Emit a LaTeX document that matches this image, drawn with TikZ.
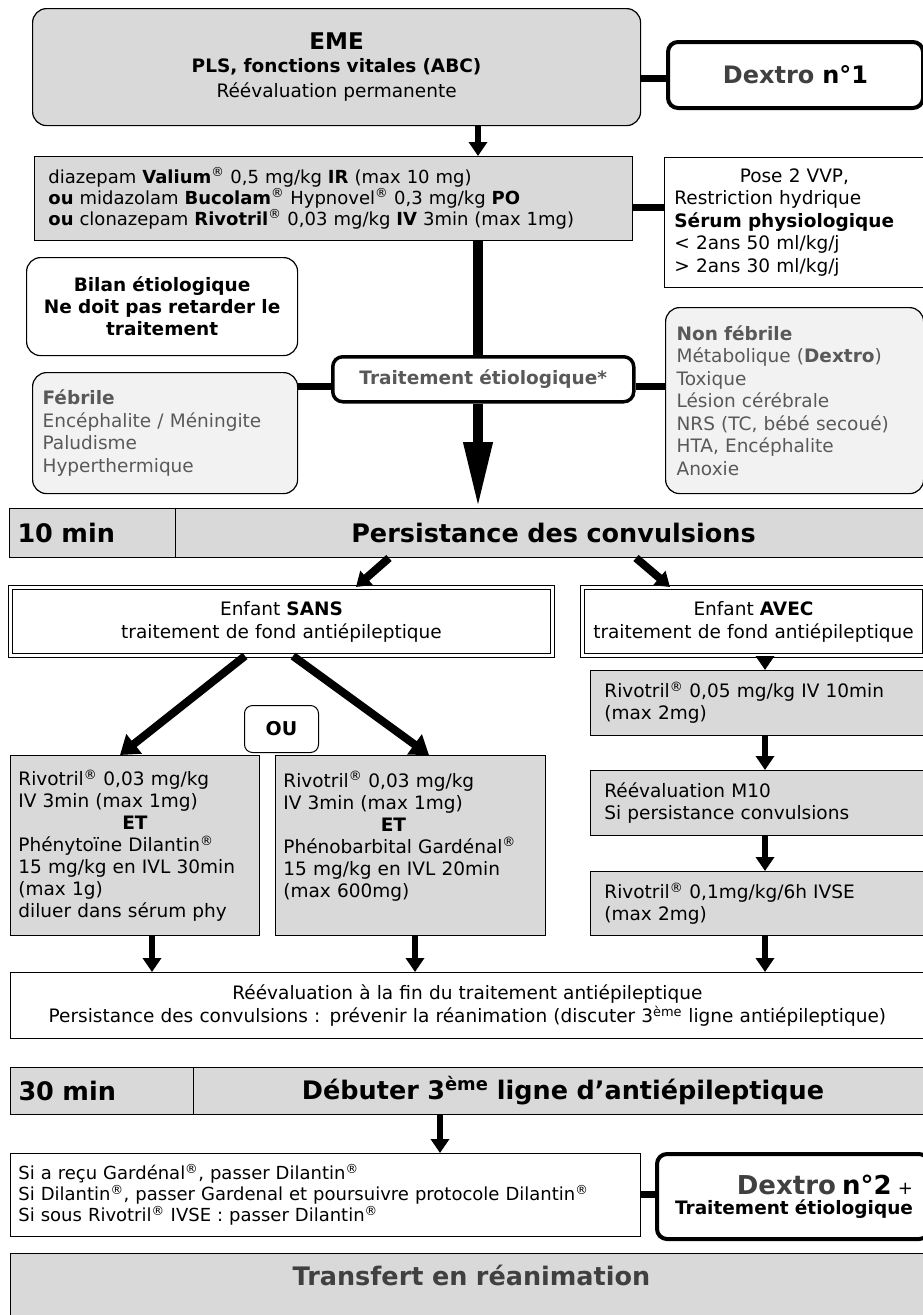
\documentclass[tikz,border=0pt]{standalone}
\usepackage{fontspec}
\setmainfont{DejaVu Sans}
\usetikzlibrary{arrows.meta,calc}
\definecolor{boxgray}{HTML}{D9D9D9}
\definecolor{lightfill}{HTML}{F2F2F2}
\definecolor{txtgray}{HTML}{595959}
\definecolor{darktxt}{HTML}{404040}
\newcommand{\rg}{\textsuperscript{®}}
\begin{document}
\begin{tikzpicture}[x=1pt,y=-1pt,
  box/.style={draw, line width=0.8pt, anchor=north west, inner xsep=14pt, inner ysep=0pt,
    font=\fontsize{18.5}{22}\selectfont},
  grayfill/.style={fill=boxgray},
  roundbox/.style={box, rounded corners=14pt, line width=1.2pt},
  thickbox/.style={box, rounded corners=10pt, line width=4pt},
  band/.style={box, fill=boxgray, line width=1pt, font=\fontsize{25.5}{30}\bfseries\selectfont},
  dbl/.style={box, double, double distance=2.5pt, line width=1pt},
  link/.style={line width=7pt},
  arrS/.style={line width=6pt, -{Triangle[length=14pt,width=18pt]}},
  arrD/.style={line width=8pt, -{Triangle[length=18pt,width=24pt]}},
]
\useasboundingbox (0,0) rectangle (922,1315);
\fill[white] (0,0) rectangle (922,1315);

% guide coordinates
\coordinate (xmain) at (478,0);
\coordinate (xr) at (765,0);
\coordinate (xl) at (152,0);
\coordinate (xm) at (415,0);
\coordinate (x3) at (440,0);

% top
\node[roundbox, fill=boxgray, minimum width=600pt, minimum height=117pt, text width=580pt, align=center] (eme) at (32,8)
 {{\fontsize{23}{28}\bfseries\selectfont EME}\\[1pt]{\bfseries PLS, fonctions vitales (ABC)}\\[3pt]Réévaluation permanente};
\node[thickbox, minimum width=255pt, minimum height=66pt, text width=227pt, align=center,
  font=\fontsize{24}{28}\bfseries\selectfont] (dex1) at (666,40) {\textcolor{darktxt}{Dextro} n°1};
\coordinate (ydex) at (0,78);
\draw[link] (eme.east |- ydex) -- (dex1.west |- ydex);

\node[box, grayfill, minimum width=598pt, minimum height=84pt, text width=570pt, align=left,
  font=\fontsize{18}{21}\selectfont] (drug) at (34,156)
 {diazepam \textbf{Valium}\rg{} 0,5 mg/kg \textbf{IR} (max 10 mg)\\
  \textbf{ou} midazolam \textbf{Bucolam}\rg{} Hypnovel\rg{} 0,3 mg/kg \textbf{PO}\\
  \textbf{ou} clonazepam \textbf{Rivotril}\rg{} 0,03 mg/kg \textbf{IV} 3min (max 1mg)};
\draw[arrS] (eme.south -| xmain) -- (drug.north -| xmain);

\node[box, minimum width=260pt, minimum height=130pt, text width=240pt, inner xsep=8pt, align=left,
  font=\fontsize{18.5}{22.5}\selectfont] (vvp) at (664,157)
 {\makebox[\linewidth][c]{Pose 2 VVP,}\\Restriction hydrique\\\textbf{Sérum physiologique}\\< 2ans 50 ml/kg/j\\> 2ans 30 ml/kg/j};
\coordinate (yvvp) at (0,207);
\draw[link] (drug.east |- yvvp) -- (vvp.west |- yvvp);

\node[roundbox, minimum width=271pt, minimum height=98pt, text width=255pt, inner xsep=8pt, align=center,
  font=\fontsize{18.5}{22}\bfseries\selectfont] (bilan) at (26,257)
 {Bilan étiologique\\Ne doit pas retarder le\\traitement};

\node[roundbox, fill=lightfill, text=txtgray, minimum width=265pt, minimum height=121pt, text width=245pt, inner xsep=10pt, align=left,
  font=\fontsize{18.5}{22.5}\selectfont] (febr) at (32,372)
 {\textbf{Fébrile}\\Encéphalite / Méningite\\Paludisme\\Hyperthermique};

\node[thickbox, line width=3.5pt, minimum width=301pt, minimum height=45pt, text width=281pt, inner xsep=10pt, align=center,
  text=txtgray, font=\fontsize{18.5}{22}\bfseries\selectfont] (trait) at (331,355) {Traitement étiologique*};

\node[roundbox, fill=lightfill, text=txtgray, minimum width=258pt, minimum height=186pt, text width=236pt, inner xsep=11pt, align=left,
  font=\fontsize{18.5}{22.5}\selectfont] (nonf) at (665,307)
 {\textbf{Non fébrile}\\Métabolique (\textbf{Dextro})\\Toxique\\Lésion cérébrale\\NRS (TC, bébé secoué)\\HTA, Encéphalite\\Anoxie};

\coordinate (ytr) at (0,386);
\draw[link] (febr.east |- ytr) -- (trait.west |- ytr);
\draw[link] (trait.east |- ytr) -- (nonf.west |- ytr);
\draw[line width=10pt] (drug.south -| xmain) -- (trait.north -| xmain);

% band 10 min
\node[band, minimum width=166pt, minimum height=49pt, text width=150pt, inner xsep=8pt, align=left] (t10) at (9,508) {10 min};
\node[band, minimum width=748pt, minimum height=49pt, text width=728pt, align=center] (pers) at (175,508) {Persistance des convulsions};
\draw[line width=10pt, -{Triangle[length=66pt,width=27pt]}] (trait.south -| xmain) -- (pers.north -| xmain);

% Enfant boxes
\node[dbl, minimum width=534pt, minimum height=68pt, text width=514pt, align=center,
  font=\fontsize{18.5}{23}\selectfont] (sans) at (10,587)
 {Enfant \textbf{SANS}\\traitement de fond antiépileptique};
\node[dbl, minimum width=342pt, minimum height=68pt, text width=330pt, inner xsep=6pt, align=center,
  font=\fontsize{18.5}{23}\selectfont] (avec) at (582,587)
 {Enfant \textbf{AVEC}\\traitement de fond antiépileptique};

\coordinate (ds1) at (389,0); \coordinate (de1) at (356,0);
\coordinate (ds2) at (636,0); \coordinate (de2) at (670,0);
\draw[arrS, line width=8pt] (pers.south -| ds1) -- (sans.north -| de1);
\draw[arrS, line width=8pt] (pers.south -| ds2) -- (avec.north -| de2);

% drug boxes
\node[box, grayfill, minimum width=249pt, minimum height=180pt, text width=233pt, inner xsep=8pt, align=left] (dl) at (10,755)
 {Rivotril\rg{} 0,03 mg/kg\\IV 3min (max 1mg)\\\makebox[\linewidth][c]{\textbf{ET}}\\Phénytoïne Dilantin\rg\\15 mg/kg en IVL 30min\\(max 1g)\\diluer dans sérum phy};
\node[box, grayfill, minimum width=270pt, minimum height=180pt, text width=254pt, inner xsep=8pt, align=left] (dm) at (275,755)
 {Rivotril\rg{} 0,03 mg/kg\\IV 3min (max 1mg)\\\hspace*{60pt}\makebox[100pt][c]{\textbf{ET}}\\Phénobarbital Gardénal\rg\\15 mg/kg en IVL 20min\\(max 600mg)\\\mbox{}};

\node[roundbox, line width=1pt, rounded corners=8pt, minimum width=74pt, minimum height=47pt, text width=60pt, inner xsep=7pt, align=center,
  font=\fontsize{19}{22}\bfseries\selectfont] (ou) at (244,705) {OU};

\coordinate (s1) at (245,0); \coordinate (e1) at (120,0);
\coordinate (s2) at (293,0); \coordinate (e2) at (429,0);
\draw[arrD] (sans.south -| s1) -- (dl.north -| e1);
\draw[arrD] (sans.south -| s2) -- (dm.north -| e2);

% right chain
\node[box, grayfill, minimum width=334pt, minimum height=65pt, text width=312pt, align=left] (r1) at (590,670)
 {Rivotril\rg{} 0,05 mg/kg IV 10min\\(max 2mg)};
\node[box, grayfill, minimum width=334pt, minimum height=65pt, text width=312pt, align=left] (r2) at (590,770)
 {Réévaluation M10\\Si persistance convulsions};
\node[box, grayfill, minimum width=334pt, minimum height=64pt, text width=312pt, align=left] (r3) at (590,871)
 {Rivotril\rg{} 0,1mg/kg/6h IVSE\\(max 2mg)};
\draw[arrS] (avec.south -| xr) -- (r1.north -| xr);
\draw[arrS] (r1.south -| xr) -- (r2.north -| xr);
\draw[arrS] (r2.south -| xr) -- (r3.north -| xr);

% reevaluation
\node[box, minimum width=914pt, minimum height=66pt, text width=894pt, inner xsep=10pt, align=center,
  font=\fontsize{18.5}{23}\selectfont] (reev) at (10,972)
 {Réévaluation à la fin du traitement antiépileptique\\Persistance des convulsions : prévenir la réanimation (discuter 3\textsuperscript{ème} ligne antiépileptique)};
\draw[arrS] (dl.south -| xl) -- (reev.north -| xl);
\draw[arrS] (dm.south -| xm) -- (reev.north -| xm);
\draw[arrS] (r3.south -| xr) -- (reev.north -| xr);

% band 30 min
\node[band, minimum width=183pt, minimum height=47pt, text width=167pt, inner xsep=8pt, align=left] (t30) at (10,1067) {30 min};
\node[band, minimum width=731pt, minimum height=47pt, text width=711pt, align=center] (deb) at (193,1067)
 {Débuter 3\textsuperscript{ème} ligne d’antiépileptique};

\node[box, minimum width=630pt, minimum height=83pt, text width=614pt, inner xsep=8pt, align=left,
  font=\fontsize{18}{21}\selectfont] (si) at (10,1153)
 {Si a reçu Gardénal\rg, passer Dilantin\rg\\Si Dilantin\rg, passer Gardenal et poursuivre protocole Dilantin\rg\\Si sous Rivotril\rg{} IVSE : passer Dilantin\rg};
\draw[arrS] (deb.south -| x3) -- (si.north -| x3);

\node[thickbox, minimum width=272pt, minimum height=85pt, text width=240pt, inner xsep=4pt, align=right] (dex2) at (655,1152)
 {{\fontsize{26}{30}\bfseries\selectfont\textcolor{darktxt}{Dextro} n°2} {\fontsize{18}{20}\selectfont +}\\[-2pt]{\fontsize{18.5}{22}\bfseries\selectfont Traitement étiologique}};
\draw[link] (si.east) -- (dex2.west |- si.east);

\node[box, grayfill, line width=1pt, minimum width=914pt, minimum height=70pt, text width=894pt, align=center,
  font=\fontsize{25.5}{30}\bfseries\selectfont, text=darktxt, text height=19pt, text depth=25pt] (transf) at (10,1253) {Transfert en réanimation};
\end{tikzpicture}
\end{document}
